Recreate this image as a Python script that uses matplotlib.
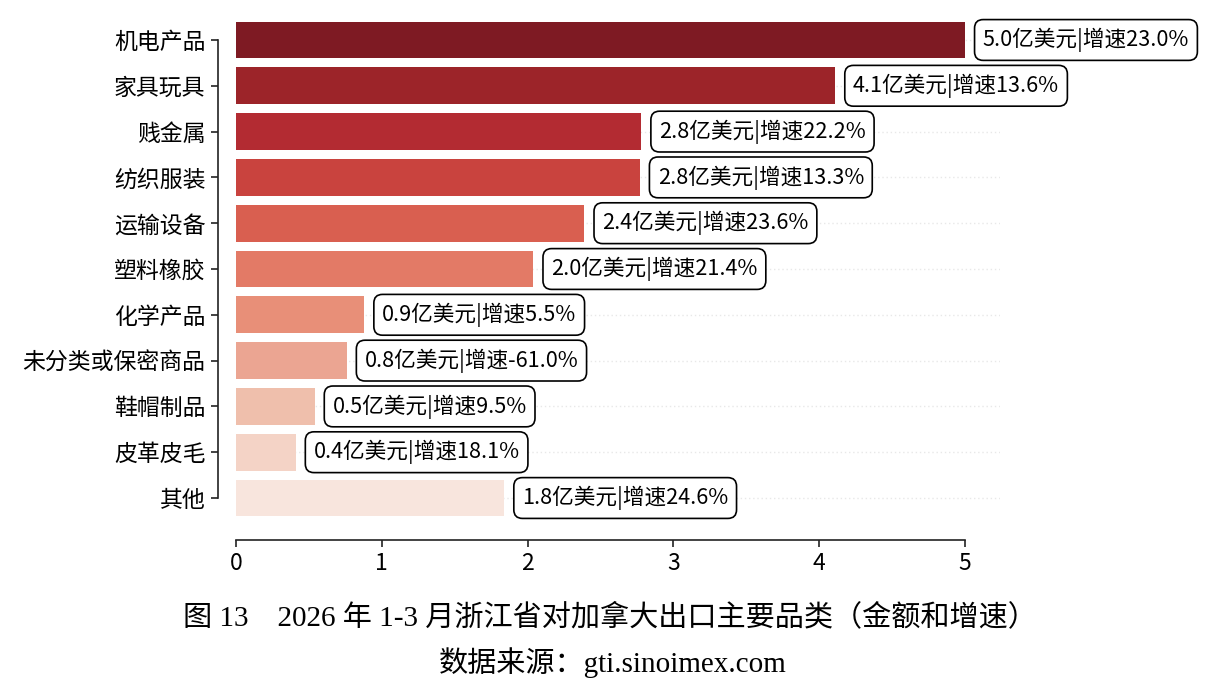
import matplotlib
matplotlib.use("Agg")
import matplotlib.pyplot as plt
import numpy as np

categories = ["机电产品", "家具玩具", "贱金属", "纺织服装", "运输设备", "塑料橡胶",
              "化学产品", "未分类或保密商品", "鞋帽制品", "皮革皮毛", "其他"]
values = [5.0, 4.11, 2.78, 2.77, 2.39, 2.04, 0.88, 0.76, 0.54, 0.41, 1.84]
growth = [23.0, 13.6, 22.2, 13.3, 23.6, 21.4, 5.5, -61.0, 9.5, 18.1, 24.6]
xticks = [0, 1, 2, 3, 4, 5]
colors = ["#7e1a23", "#9c2429", "#b32b32", "#c9433e", "#d95f50", "#e37a66",
          "#e88f78", "#eba592", "#efbfac", "#f4d3c6", "#f8e5dd"]
caption = "图 13    2026 年 1-3 月浙江省对加拿大出口主要品类（金额和增速）"
source = "数据来源：gti.sinoimex.com"

plt.rcParams['font.family'] = ['Noto Sans CJK SC', 'DejaVu Sans']

fig = plt.figure(figsize=(12.32, 6.91), dpi=100)
ax = fig.add_axes([236/1232, 1 - 525.5/691, 764/1232, 513/691])

y = np.arange(len(categories))
for yi in y:
    ax.axhline(yi, color="#e8e8e8", lw=1.0, ls=(0, (1, 2)), zorder=0)
ax.barh(y, values, height=0.8, color=colors, zorder=2)

for yi, v, g in zip(y, values, growth):
    ax.annotate(f"{v:.1f}亿美元|增速{g:.1f}%", xy=(v, yi), xytext=(12.8, 0),
                textcoords="offset points", ha="left", va="center", fontsize=15.6,
                color="black", zorder=3,
                bbox=dict(boxstyle="round,pad=0.38,rounding_size=0.4", fc="white",
                          ec="black", lw=1.2))

for s in ["top", "right"]:
    ax.spines[s].set_visible(False)
ax.spines["left"].set_position(("outward", 13))
ax.spines["bottom"].set_position(("outward", 10.4))

ax.set_xlim(0, 5.24)
ax.set_ylim(10.6, -0.6)
ax.set_yticks(y)
ax.set_yticklabels(categories)
ax.set_xticks(xticks)
ax.set_xticklabels([str(t) for t in xticks])

ax.spines["left"].set_bounds(0, 10)
ax.spines["bottom"].set_bounds(0, 5)
for s in ["left", "bottom"]:
    ax.spines[s].set_linewidth(1.2)
    ax.spines[s].set_color("#222222")
ax.tick_params(axis="both", length=5, width=1.2, color="#222222", pad=4,
               labelsize=16.5)

serif = ['Liberation Serif', 'Noto Sans CJK SC']
fig.text(0.495, 1 - 617/691, caption, ha="center", va="center", fontsize=21,
         family=serif)
fig.text(0.497, 1 - 663/691, source, ha="center", va="center", fontsize=21,
         family=serif)

fig.savefig("out.png", dpi=100, facecolor="white")
